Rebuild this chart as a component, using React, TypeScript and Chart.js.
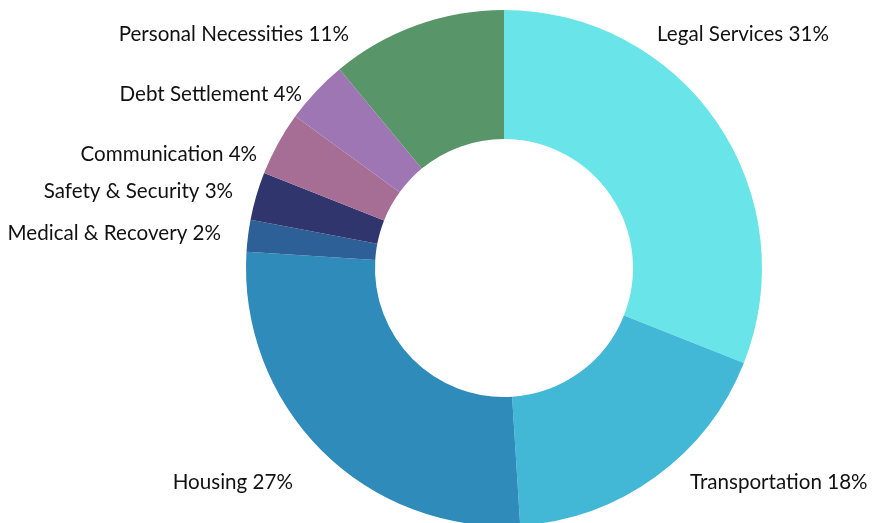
import { useEffect, useRef } from "react";
import { Chart, registerables } from "chart.js";

Chart.register(...registerables);

const categories = [
  "Legal Services",
  "Transportation",
  "Housing",
  "Medical & Recovery",
  "Safety & Security",
  "Communication",
  "Debt Settlement",
  "Personal Necessities",
];
const shares = [31, 18, 27, 2, 3, 4, 4, 11];
const sliceColors = [
  "#69E4E8",
  "#42B7D6",
  "#2E8BBA",
  "#2E6098",
  "#30356E",
  "#A66E94",
  "#9F76B4",
  "#589669",
];

// label anchor (near end of each label), relative to the doughnut centre, in outer-radius units
const labelOffsets: [number, number][] = [
  [0.593, -0.907],
  [0.721, 0.83],
  [-0.818, 0.83],
  [-1.097, -0.136],
  [-1.05, -0.298],
  [-0.957, -0.442],
  [-0.783, -0.674],
  [-0.601, -0.907],
];

const outsideLabels = {
  id: "outsideLabels",
  afterDraw(chart: any) {
    const meta = chart.getDatasetMeta(0);
    const arc = meta.data[0] as any;
    if (!arc) return;
    const cx = arc.x;
    const cy = arc.y;
    const R = arc.outerRadius;
    const ctx = chart.ctx;
    ctx.save();
    ctx.font = "20.6px Lato";
    ctx.fillStyle = "#111111";
    ctx.textBaseline = "middle";
    categories.forEach((c, i) => {
      const [fx, fy] = labelOffsets[i];
      ctx.textAlign = fx > 0 ? "left" : "right";
      ctx.fillText(`${c} ${shares[i]}%`, cx + fx * R, cy + fy * R);
    });
    ctx.restore();
  },
};

export default function App() {
  const ref = useRef<HTMLCanvasElement>(null);
  useEffect(() => {
    document.body.style.margin = "0";
    document.body.style.overflow = "hidden";
    const chart = new Chart(ref.current!, {
      type: "doughnut",
      data: {
        labels: categories,
        datasets: [
          {
            data: shares,
            backgroundColor: sliceColors,
            borderWidth: 0,
            hoverOffset: 0,
          },
        ],
      },
      options: {
        animation: false,
        responsive: true,
        maintainAspectRatio: false,
        cutout: "50%",
        layout: { padding: { top: 10, bottom: 10, left: 134, right: 0 } },
        plugins: {
          legend: { display: false },
          tooltip: { enabled: false },
        },
      },
      plugins: [outsideLabels],
    });
    return () => chart.destroy();
  }, []);
  return (
    <div style={{ width: 874, height: 523, overflow: "hidden" }}>
      <div style={{ width: 874, height: 536, position: "relative" }}>
        <canvas ref={ref} />
      </div>
    </div>
  );
}
